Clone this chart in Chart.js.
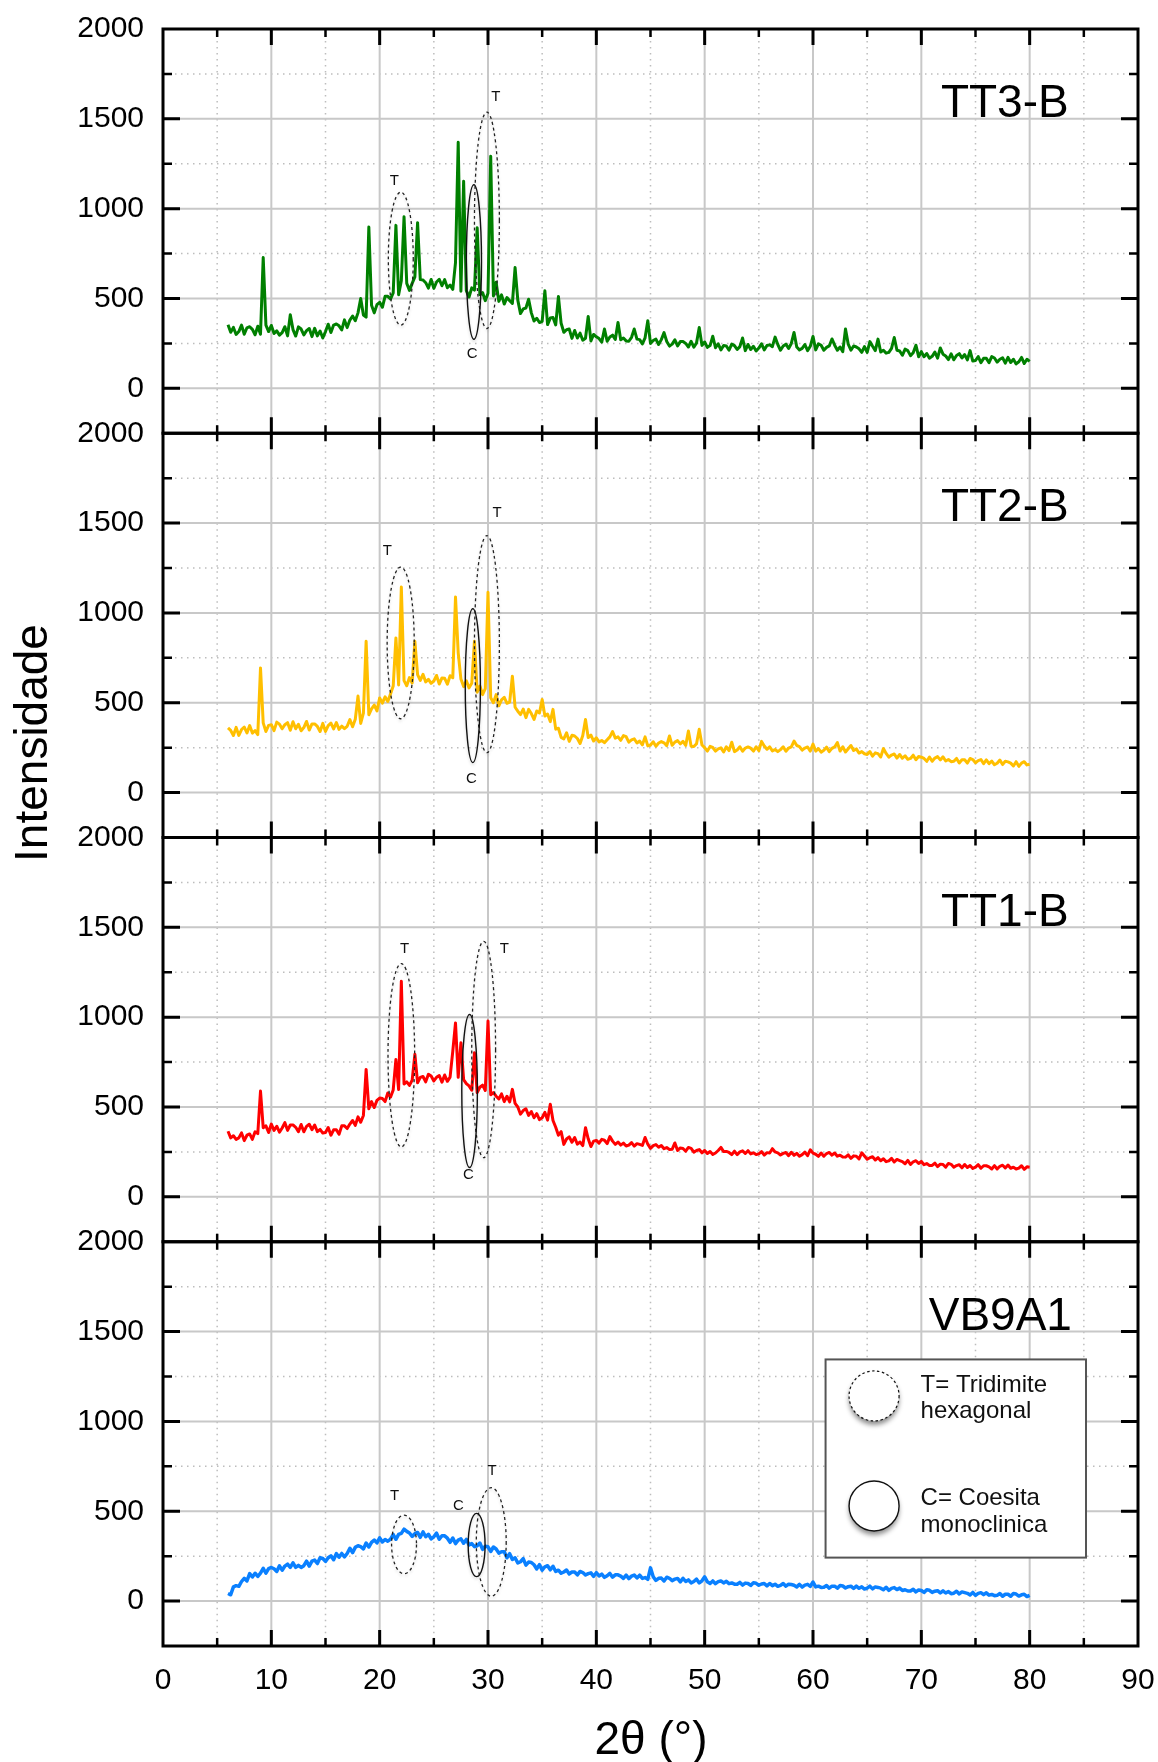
<!DOCTYPE html>
<html>
<head>
<meta charset="utf-8">
<title>DRX - TT3-B, TT2-B, TT1-B, VB9A1</title>
<script src="https://cdn.jsdelivr.net/npm/chart.js@4.4.0/dist/chart.umd.min.js"></script>
<style>
  html, body { margin: 0; padding: 0; background: #fff; }
  #wrap { position: relative; width: 1158px; height: 1762px; }
  canvas { display: block; }
</style>
</head>
<body>
<div id="wrap"><canvas id="xrd" width="1158" height="1762"></canvas></div>
<script>
// scan: 6° to 80° 2θ, one reading every 0.25°
const thetaStart = 6;
const thetaStep = 0.25;

// counts per step, two degrees per row
const tt3b = [
  354,312,339,300, 316,352,301,337,
  343,328,298,346, 301,728,352,316,
  350,305,320,296, 310,343,292,410,
  327,291,342,330, 297,321,333,288,
  334,292,319,280, 316,357,311,352,
  358,348,325,381, 338,380,402,376,
  420,500,408,396, 898,463,420,466,
  479,451,512,512, 497,531,907,521,
  599,955,584,545, 584,620,922,605,
  603,588,558,606, 556,592,607,571,
  605,560,575,551, 700,1370,540,1153,
  544,508,559,547, 894,521,533,488,
  529,1292,514,590, 484,520,469,505,
  488,473,672,491, 416,442,447,496,
  420,375,390,366, 373,543,355,391,
  394,353,511,362, 312,326,330,278,
  322,280,307,268, 279,400,264,300,
  287,277,257,330, 262,286,296,272,
  367,270,280,264, 262,284,330,274,
  271,247,281,376, 250,266,274,244,
  271,310,261,235, 246,270,236,260,
  260,250,230,262, 229,253,339,239,
  258,228,238,290, 226,248,214,238,
  236,212,246,238, 216,232,280,210,
  244,216,234,208, 224,248,214,238,
  242,232,285,244, 212,236,246,222,
  250,311,230,214, 222,244,210,234,
  289,214,248,240, 212,228,236,275,
  240,212,230,204, 330,246,212,236,
  230,220,200,232, 200,260,234,210,
  274,202,212,196, 200,222,283,212,
  208,184,218,210, 182,198,240,176,
  204,176,194,168, 178,202,168,225,
  190,180,160,192, 159,183,193,169,
  188,158,210,152, 155,177,143,167,
  167,143,177,169, 146,162,170,140,
  172,144,162,136, 148,172,138,162,
  150
];

const tt2b = [
  360,346,318,363, 318,351,365,332,
  373,331,345,323, 694,388,340,374,
  378,345,392,381, 355,378,389,347,
  394,355,380,344, 362,396,348,382,
  382,368,340,385, 340,373,387,354,
  390,352,370,356, 369,406,366,408,
  537,385,442,842, 433,466,487,455,
  527,498,533,507, 549,593,861,599,
  1144,623,595,640, 610,842,657,624,
  658,616,630,608, 621,652,604,638,
  636,603,650,639, 1089,778,632,590,
  622,583,608,842, 559,593,545,579,
  1115,528,500,545, 483,516,530,497,
  503,648,475,453, 434,465,417,463,
  440,407,454,443, 518,426,437,395,
  463,353,358,307, 299,333,285,319,
  315,301,273,318, 407,306,320,287,
  305,282,290,278, 294,310,340,303,
  310,291,317,311, 281,293,299,276,
  287,266,310,260, 265,283,258,276,
  284,277,261,315, 263,281,289,271,
  285,262,343,258, 256,272,352,265,
  250,231,257,251, 231,243,249,226,
  255,234,280,228, 237,255,230,248,
  254,247,231,255, 233,285,259,241,
  255,232,240,228, 239,255,230,248,
  255,287,262,256, 236,248,254,231,
  270,231,245,225, 235,253,228,246,
  254,278,231,255, 226,244,262,234,
  243,220,228,216, 212,228,203,221,
  217,198,245,218, 197,209,215,192,
  212,191,205,185, 190,208,183,201,
  197,190,174,198, 174,192,200,182,
  199,176,184,172, 174,190,165,183,
  183,164,190,184, 166,178,184,161,
  182,161,175,155, 163,181,156,174,
  171,164,148,172, 146,164,172,154,
  158
];

const tt1b = [
  365,328,340,320, 328,356,313,343,
  350,320,362,352, 589,385,395,358,
  405,370,393,360, 383,413,370,400,
  400,387,363,403, 362,392,404,374,
  400,363,375,355, 358,386,343,373,
  373,348,395,395, 380,405,425,398,
  445,415,453,709, 490,530,497,537,
  550,547,530,578, 555,595,765,597,
  1200,628,640,620, 650,793,635,665,
  670,640,682,672, 645,665,675,638,
  678,643,666,811, 968,665,857,652,
  630,617,593,802, 580,610,622,592,
  978,568,580,560, 545,573,530,560,
  528,598,520,500, 460,480,490,453,
  475,440,463,430, 440,470,427,515,
  425,387,343,363, 292,322,334,304,
  330,293,305,285, 385,323,280,310,
  314,299,320,315, 296,335,310,292,
  305,288,299,283, 288,302,282,296,
  292,286,330,293, 270,285,291,276,
  286,268,274,264, 265,300,258,272,
  269,254,275,270, 249,258,263,245,
  258,241,252,236, 244,258,275,252,
  253,247,235,254, 235,250,256,241,
  257,239,245,235, 239,252,232,246,
  244,268,250,245, 233,242,247,229,
  248,231,242,226, 235,249,229,262,
  243,237,225,244, 226,241,247,232,
  244,226,232,222, 221,234,214,228,
  226,211,245,227, 209,218,223,205,
  218,201,212,196, 200,214,194,208,
  202,196,184,203, 180,195,201,186,
  197,179,185,175, 175,188,168,182,
  180,165,186,181, 165,174,179,161,
  180,163,174,158, 165,179,159,173,
  173,167,155,174, 155,170,176,161,
  177,159,165,155, 160,173,153,167,
  165
];

const vb9a1 = [
  42,35,79,86, 82,109,127,112,
  153,134,155,137, 156,182,155,181,
  187,180,165,196, 172,195,206,187,
  213,188,199,187, 197,222,195,222,
  228,209,241,237, 221,241,252,230,
  264,244,265,246, 265,294,270,299,
  308,303,290,323, 301,327,340,324,
  352,329,343,333, 345,370,344,371,
  377,400,388,379, 360,375,382,355,
  385,358,372,346, 358,378,344,364,
  363,350,327,351, 320,339,346,322,
  343,313,320,303, 308,323,288,305,
  302,276,301,290, 267,275,275,241,
  264,232,241,212, 219,236,200,217,
  215,202,179,203, 172,191,197,174,
  194,165,172,155, 162,173,151,162,
  162,146,165,159, 145,153,157,138,
  158,140,150,132, 141,154,133,146,
  146,139,126,144, 125,139,145,129,
  144,126,131,121, 185,136,115,127,
  128,112,133,127, 114,122,126,107,
  127,109,118,101, 109,122,101,113,
  135,107,98,112, 97,108,112,101,
  110,97,101,94, 94,104,89,100,
  98,87,102,99, 88,95,98,85,
  98,86,94,82, 87,98,83,94,
  92,88,79,93, 78,89,93,82,
  106,79,83,76, 77,87,72,83,
  83,72,87,84, 73,80,83,70,
  83,71,79,67, 72,83,68,79,
  76,72,63,77, 60,71,75,64,
  72,59,63,56, 56,66,51,62,
  59,48,63,60, 48,55,58,45,
  57,45,53,41, 44,55,40,51,
  47,43,34,48, 32,43,47,36,
  46,33,37,30, 32,42,27,38,
  38,27,42,39, 28,35,38,25,
  32
];

// axis ticks
const xMajor = [10, 20, 30, 40, 50, 60, 70, 80];
const xMinor = [5, 15, 25, 35, 45, 55, 65, 75, 85];
const yMajor = [0, 500, 1000, 1500];
const yMinor = [250, 750, 1250, 1750];

// phase rings: [2θ centre, intensity centre, half-width (°), half-height (counts)]
const tt3bTridimite = [[21.95, 722, 1.15, 370], [29.9, 935, 1.15, 602]];
const tt3bCoesita = [[28.7, 703, 0.7, 430]];
const tt3bTags = [['T', 21.35, 1154], ['C', 28.53, 191], ['T', 30.73, 1620]];

const tt2bTridimite = [[21.94, 833, 1.25, 422], [29.9, 826, 1.15, 604]];
const tt2bCoesita = [[28.6, 595, 0.7, 428]];
const tt2bTags = [['T', 20.7, 1343], ['C', 28.46, 78], ['T', 30.83, 1559]];

const tt1bTridimite = [[22.0, 788, 1.23, 510], [29.6, 820, 1.1, 602]];
const tt1bCoesita = [[28.3, 589, 0.72, 426]];
const tt1bTags = [['T', 22.3, 1381], ['C', 28.2, 122], ['T', 31.5, 1381]];

const vb9a1Tridimite = [[22.25, 315, 1.15, 163], [30.3, 329, 1.38, 302]];
const vb9a1Coesita = [[28.95, 312, 0.78, 176]];
const vb9a1Tags = [['T', 21.37, 584], ['C', 27.26, 532], ['T', 30.37, 724]];

const FONT = "'Liberation Sans', Arial, Helvetica, sans-serif";
Chart.defaults.font.family = FONT;
Chart.defaults.color = '#000';

const panels = [
  { id: 'y1', name: 'TT3-B', nameX: 83.6, values: tt3b, color: '#008000', width: 3, tri: tt3bTridimite, coe: tt3bCoesita, tags: tt3bTags },
  { id: 'y2', name: 'TT2-B', nameX: 83.6, values: tt2b, color: '#FFBF00', width: 3, tri: tt2bTridimite, coe: tt2bCoesita, tags: tt2bTags },
  { id: 'y3', name: 'TT1-B', nameX: 83.6, values: tt1b, color: '#FF0000', width: 3, tri: tt1bTridimite, coe: tt1bCoesita, tags: tt1bTags },
  { id: 'y4', name: 'VB9A1', nameX: 83.9, values: vb9a1, color: '#0A80FF', width: 3.5, tri: vb9a1Tridimite, coe: vb9a1Coesita, tags: vb9a1Tags }
];

const toPoints = (arr) => arr.map((v, i) => ({ x: thetaStart + i * thetaStep, y: v }));

// label gaps come from invisible tick marks so the layout does not pad the plot area
const hiddenTicks = (len) => ({
  display: true,
  drawOnChartArea: false,
  drawTicks: true,
  tickLength: len,
  tickColor: 'rgba(0,0,0,0)'
});

const yScale = (p, i) => ({
  type: 'linear',
  position: 'left',
  stack: 'xrd',
  stackWeight: 1,
  weight: panels.length - i,
  min: -250,
  max: 2000,
  ticks: {
    stepSize: 250,
    autoSkip: false,
    padding: 0,
    font: { size: 30 },
    color: '#000',
    callback: (v) => (v >= 0 && v % 500 === 0 ? v : '')
  },
  grid: hiddenTicks(19),
  border: { display: false },
  afterFit(scale) { scale.width = 163; }
});

const scales = {
  x: {
    type: 'linear',
    position: 'bottom',
    min: 0,
    max: 90,
    ticks: { stepSize: 10, autoSkip: false, maxRotation: 0, padding: 0, font: { size: 30 }, color: '#000' },
    grid: hiddenTicks(17),
    border: { display: false },
    afterFit(scale) { scale.height = 116; }
  }
};
panels.forEach((p, i) => { scales[p.id] = yScale(p, i); });

function ellipse(ctx, x, y, ring) {
  const [cx, cy, hw, hh] = ring;
  const px = x.getPixelForValue(cx);
  const py = y.getPixelForValue(cy);
  const rx = Math.abs(x.getPixelForValue(cx + hw) - px);
  const ry = Math.abs(y.getPixelForValue(cy + hh) - py);
  ctx.beginPath();
  ctx.ellipse(px, py, rx, ry, 0, 0, Math.PI * 2);
  ctx.stroke();
}

const panelFrame = {
  id: 'panelFrame',
  beforeDatasetsDraw(chart) {
    const { ctx, chartArea: area, scales: s } = chart;
    const x = s.x;
    ctx.save();
    panels.forEach((p) => {
      const y = s[p.id];
      // dotted minor grid
      ctx.strokeStyle = '#bdbdbd';
      ctx.lineWidth = 1.5;
      ctx.setLineDash([1.5, 4.5]);
      ctx.beginPath();
      xMinor.forEach((v) => { const px = x.getPixelForValue(v); ctx.moveTo(px, y.top); ctx.lineTo(px, y.bottom); });
      yMinor.forEach((v) => { const py = y.getPixelForValue(v); ctx.moveTo(area.left, py); ctx.lineTo(area.right, py); });
      ctx.stroke();
      // solid major grid
      ctx.setLineDash([]);
      ctx.strokeStyle = '#c8c8c8';
      ctx.lineWidth = 2;
      ctx.beginPath();
      xMajor.forEach((v) => { const px = x.getPixelForValue(v); ctx.moveTo(px, y.top); ctx.lineTo(px, y.bottom); });
      yMajor.forEach((v) => { const py = y.getPixelForValue(v); ctx.moveTo(area.left, py); ctx.lineTo(area.right, py); });
      ctx.stroke();
    });
    ctx.restore();
  },
  afterDatasetsDraw(chart) {
    const { ctx, chartArea: area, scales: s } = chart;
    const x = s.x;
    ctx.save();
    panels.forEach((p) => {
      const y = s[p.id];

      // phase rings
      ctx.save();
      ctx.shadowColor = 'rgba(0,0,0,0.18)';
      ctx.shadowBlur = 3;
      ctx.shadowOffsetY = 2;
      ctx.strokeStyle = '#222';
      ctx.lineWidth = 1.3;
      ctx.setLineDash([3, 3]);
      p.tri.forEach((r) => ellipse(ctx, x, y, r));
      ctx.setLineDash([]);
      ctx.strokeStyle = '#111';
      ctx.lineWidth = 1.4;
      p.coe.forEach((r) => ellipse(ctx, x, y, r));
      ctx.restore();

      ctx.fillStyle = '#111';
      ctx.font = '15px ' + FONT;
      ctx.textAlign = 'center';
      ctx.textBaseline = 'middle';
      p.tags.forEach(([t, tx, ty]) => ctx.fillText(t, x.getPixelForValue(tx), y.getPixelForValue(ty)));

      // sample name
      ctx.font = '46px ' + FONT;
      ctx.textAlign = 'right';
      ctx.textBaseline = 'alphabetic';
      ctx.fillStyle = '#000';
      ctx.fillText(p.name, x.getPixelForValue(p.nameX), y.getPixelForValue(1510));

      // ticks on all four sides
      ctx.strokeStyle = '#000';
      ctx.lineWidth = 3;
      ctx.beginPath();
      xMajor.forEach((v) => {
        const px = x.getPixelForValue(v);
        ctx.moveTo(px, y.top); ctx.lineTo(px, y.top + 16);
        ctx.moveTo(px, y.bottom); ctx.lineTo(px, y.bottom - 16);
      });
      yMajor.forEach((v) => {
        const py = y.getPixelForValue(v);
        ctx.moveTo(area.left, py); ctx.lineTo(area.left + 17, py);
        ctx.moveTo(area.right, py); ctx.lineTo(area.right - 17, py);
      });
      ctx.stroke();
      ctx.lineWidth = 2.5;
      ctx.beginPath();
      xMinor.forEach((v) => {
        const px = x.getPixelForValue(v);
        ctx.moveTo(px, y.top); ctx.lineTo(px, y.top + 8);
        ctx.moveTo(px, y.bottom); ctx.lineTo(px, y.bottom - 8);
      });
      yMinor.forEach((v) => {
        const py = y.getPixelForValue(v);
        ctx.moveTo(area.left, py); ctx.lineTo(area.left + 9, py);
        ctx.moveTo(area.right, py); ctx.lineTo(area.right - 9, py);
      });
      ctx.stroke();

      // frame
      ctx.lineWidth = 3;
      ctx.strokeRect(area.left, y.top, area.right - area.left, y.bottom - y.top);
    });

    // legend box in the bottom panel
    const y4 = s.y4;
    const bx = x.getPixelForValue(61.16);
    const by = y4.getPixelForValue(1345);
    const bw = x.getPixelForValue(85.2) - bx;
    const bh = y4.getPixelForValue(242) - by;
    ctx.fillStyle = '#fff';
    ctx.fillRect(bx, by, bw, bh);
    ctx.strokeStyle = '#555';
    ctx.lineWidth = 2;
    ctx.strokeRect(bx, by, bw, bh);

    const icon = (cy, dashed) => {
      ctx.save();
      ctx.shadowColor = 'rgba(0,0,0,0.45)';
      ctx.shadowBlur = 5;
      ctx.shadowOffsetY = 4;
      ctx.fillStyle = '#fff';
      ctx.beginPath();
      ctx.arc(bx + 48.5, by + cy, 25, 0, Math.PI * 2);
      ctx.fill();
      ctx.restore();
      ctx.save();
      ctx.strokeStyle = '#111';
      ctx.lineWidth = dashed ? 1.2 : 1.4;
      ctx.setLineDash(dashed ? [2.5, 2.5] : []);
      ctx.beginPath();
      ctx.arc(bx + 48.5, by + cy, 25, 0, Math.PI * 2);
      ctx.stroke();
      ctx.restore();
    };
    icon(36.5, true);
    icon(146.5, false);

    ctx.fillStyle = '#111';
    ctx.font = '24px ' + FONT;
    ctx.textAlign = 'left';
    ctx.textBaseline = 'alphabetic';
    ctx.fillText('T= Tridimite', bx + 95, by + 32.5);
    ctx.fillText('hexagonal', bx + 95, by + 58.5);
    ctx.fillText('C= Coesita', bx + 95, by + 146);
    ctx.fillText('monoclinica', bx + 95, by + 172.5);
    ctx.restore();
  },
  afterDraw(chart) {
    const { ctx } = chart;
    ctx.save();
    ctx.fillStyle = '#000';
    // y title
    ctx.font = '46px ' + FONT;
    ctx.textAlign = 'center';
    ctx.textBaseline = 'alphabetic';
    ctx.translate(47, 743);
    ctx.rotate(-Math.PI / 2);
    ctx.fillText('Intensidade', 0, 0);
    ctx.restore();
    // x title
    ctx.save();
    ctx.fillStyle = '#000';
    ctx.font = '46px ' + FONT;
    ctx.textAlign = 'center';
    ctx.textBaseline = 'alphabetic';
    ctx.fillText('2θ (°)', 651, 1754);
    ctx.restore();
  }
};

new Chart(document.getElementById('xrd'), {
  type: 'line',
  data: {
    datasets: panels.map((p) => ({
      label: p.name,
      data: toPoints(p.values),
      yAxisID: p.id,
      borderColor: p.color,
      borderWidth: p.width,
      borderJoinStyle: 'round',
      pointRadius: 0,
      tension: 0,
      fill: false
    }))
  },
  options: {
    responsive: false,
    animation: false,
    parsing: false,
    normalized: true,
    layout: { padding: { top: 29, right: 20, left: 0, bottom: 0 } },
    plugins: { legend: { display: false }, tooltip: { enabled: false } },
    scales
  },
  plugins: [panelFrame]
});
</script>
</body>
</html>
